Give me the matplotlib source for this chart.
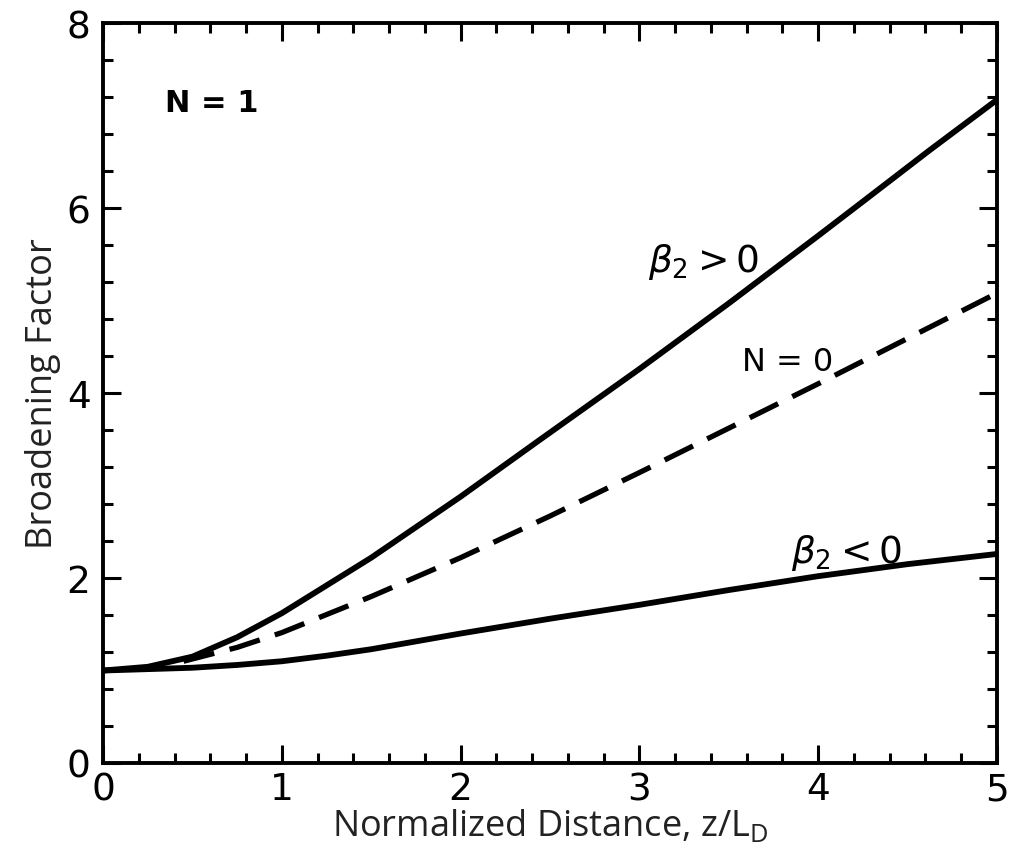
import numpy as np
from matplotlib import pyplot as plt
from matplotlib.ticker import MultipleLocator

# values
z_pos = [0.0, 0.25, 0.5, 0.75, 1.0, 1.25, 1.5, 1.75, 2.0, 2.44, 3.0, 3.5, 4.0, 4.25, 4.62, 5.0]
bf_pos = [1.0, 1.04, 1.15, 1.36, 1.62, 1.92, 2.22, 2.55, 2.88, 3.49, 4.26, 4.97, 5.70, 6.07, 6.62, 7.17]

z_n0 = [0.45, 0.75, 1.0, 1.5, 2.0, 2.5, 3.0, 3.5, 4.0, 4.5, 5.0]
bf_n0 = [1.10, 1.25, 1.41, 1.80, 2.22, 2.67, 3.14, 3.62, 4.10, 4.59, 5.08]

z_neg = [0.0, 0.5, 0.75, 1.0, 1.25, 1.5, 2.0, 2.5, 3.0, 3.5, 4.0, 4.5, 5.0]
bf_neg = [1.0, 1.03, 1.06, 1.10, 1.16, 1.23, 1.40, 1.56, 1.71, 1.87, 2.02, 2.15, 2.26]

tick_font = "DejaVu Sans"
label_font = "Open Sans"

fig = plt.figure(figsize=(10.11, 8.62), dpi=100)
ax = fig.add_axes([0.102, 0.1137, 0.884, 0.8583])

ax.plot(z_pos, bf_pos, color="black", lw=4.2, solid_capstyle="butt", solid_joinstyle="round")
ax.plot(z_neg, bf_neg, color="black", lw=4.2, solid_capstyle="butt", solid_joinstyle="round")
ax.plot(z_n0, bf_n0, color="black", lw=3.8, dashes=(6.0, 3.0))

ax.set_xlim(0, 5)
ax.set_ylim(0, 8)
ax.xaxis.set_major_locator(MultipleLocator(1))
ax.xaxis.set_minor_locator(MultipleLocator(0.2))
ax.yaxis.set_major_locator(MultipleLocator(2))
ax.yaxis.set_minor_locator(MultipleLocator(0.4))

ax.tick_params(which="both", direction="in", top=True, right=True, width=2.2, color="black")
ax.tick_params(which="major", length=13)
ax.tick_params(which="minor", length=7)
ax.tick_params(axis="x", which="major", pad=6)
ax.tick_params(axis="y", which="major", pad=9)
for sp in ax.spines.values():
    sp.set_linewidth(2.8)

for lab in ax.get_xticklabels() + ax.get_yticklabels():
    lab.set_fontfamily(tick_font)
    lab.set_fontsize(27)

ax.set_xlabel(r"Normalized Distance, z/L$_\mathregular{D}$", fontsize=26,
              fontfamily=label_font, color="#222222", labelpad=0)
ax.set_ylabel("Broadening Factor", fontsize=26, fontfamily=label_font,
              color="#222222", labelpad=4)

ax.text(0.61, 7.14, "N = 1", fontsize=22, fontfamily=tick_font, fontweight="bold",
        ha="center", va="center")
ax.text(3.36, 5.43, r"$\beta_2 > 0$", fontsize=27, ha="center", va="center")
ax.text(3.83, 4.34, "N = 0", fontsize=23, fontfamily=tick_font, ha="center", va="center")
ax.text(4.16, 2.28, r"$\beta_2 < 0$", fontsize=27, ha="center", va="center")

fig.savefig("out.png", dpi=100)
